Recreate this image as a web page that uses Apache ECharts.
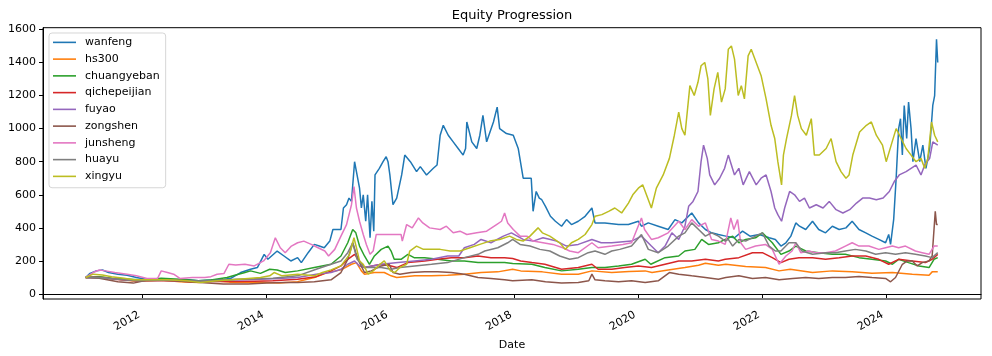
<!DOCTYPE html>
<html>
<head>
<meta charset="utf-8">
<script src="https://cdn.jsdelivr.net/npm/echarts@6/dist/echarts.min.js"></script>
<style>
html,body{margin:0;padding:0;background:#fff;}
#chart{width:992px;height:356px;}
</style>
</head>
<body>
<div id="chart"></div>
<script>
// Time points are decimal years; values are equity levels (start = 100)
const seriesNames = ['wanfeng','hs300','chuangyeban','qichepeijian','fuyao','zongshen','junsheng','huayu','xingyu'];
const colors = ['#1f77b4','#ff7f0e','#2ca02c','#d62728','#9467bd','#8c564b','#e377c2','#7f7f7f','#bcbd22'];
const yTicks = [0,200,400,600,800,1000,1200,1400,1600];
const xTickYears = [2012,2014,2016,2018,2020,2022,2024];

const wanfeng = [[2011.08,100],[2011.15,125],[2011.25,140],[2011.35,145],[2011.45,130],[2011.6,120],[2011.75,114],[2011.9,100],[2012.05,90],[2012.3,88],[2012.5,85],[2012.7,88],[2012.9,80],[2013.1,85],[2013.3,88],[2013.42,95],[2013.58,130],[2013.74,150],[2013.85,160],[2013.96,240],[2014.02,210],[2014.17,260],[2014.28,230],[2014.39,200],[2014.5,220],[2014.56,190],[2014.67,250],[2014.77,300],[2014.85,290],[2014.93,280],[2015.02,320],[2015.07,390],[2015.2,390],[2015.24,520],[2015.29,540],[2015.33,580],[2015.37,560],[2015.42,800],[2015.45,740],[2015.5,640],[2015.53,520],[2015.56,600],[2015.6,440],[2015.63,600],[2015.67,340],[2015.7,560],[2015.73,380],[2015.75,720],[2015.82,760],[2015.88,800],[2015.93,830],[2015.96,800],[2015.99,720],[2016.04,540],[2016.1,580],[2016.18,720],[2016.23,840],[2016.32,800],[2016.42,740],[2016.48,770],[2016.58,720],[2016.69,760],[2016.75,780],[2016.8,960],[2016.85,1020],[2016.93,960],[2017.01,920],[2017.09,880],[2017.17,840],[2017.21,880],[2017.23,1040],[2017.31,920],[2017.39,880],[2017.44,960],[2017.49,1080],[2017.55,920],[2017.66,1040],[2017.72,1130],[2017.76,1000],[2017.79,1000],[2017.87,970],[2017.98,960],[2018.06,880],[2018.14,700],[2018.27,700],[2018.3,500],[2018.35,620],[2018.4,580],[2018.44,570],[2018.5,530],[2018.58,470],[2018.66,440],[2018.76,410],[2018.84,450],[2018.92,420],[2019.03,440],[2019.14,470],[2019.25,520],[2019.3,430],[2019.46,430],[2019.68,420],[2019.84,420],[2020.0,440],[2020.05,410],[2020.16,430],[2020.32,410],[2020.48,390],[2020.59,450],[2020.7,430],[2020.86,490],[2020.97,430],[2021.08,390],[2021.18,370],[2021.29,360],[2021.41,350],[2021.55,340],[2021.68,380],[2021.8,350],[2021.95,360],[2022.11,340],[2022.21,330],[2022.3,290],[2022.38,310],[2022.46,350],[2022.54,430],[2022.6,410],[2022.7,390],[2022.81,440],[2022.91,390],[2023.02,370],[2023.13,410],[2023.24,390],[2023.35,400],[2023.45,440],[2023.56,390],[2023.67,370],[2023.77,350],[2023.88,330],[2023.99,310],[2024.04,360],[2024.07,300],[2024.12,450],[2024.16,700],[2024.2,1000],[2024.23,1060],[2024.26,840],[2024.29,1140],[2024.33,940],[2024.36,1160],[2024.4,1000],[2024.43,800],[2024.48,940],[2024.54,800],[2024.59,900],[2024.64,760],[2024.7,880],[2024.75,1140],[2024.78,1200],[2024.81,1540],[2024.83,1400]];

const hs300 = [[2011.08,100],[2011.3,105],[2011.6,90],[2011.9,78],[2012.1,80],[2012.3,85],[2012.6,75],[2012.9,70],[2013.1,82],[2013.4,72],[2013.6,70],[2013.9,72],[2014.2,66],[2014.5,75],[2014.77,100],[2014.95,125],[2015.04,134],[2015.2,146],[2015.37,180],[2015.45,190],[2015.53,140],[2015.58,120],[2015.74,130],[2015.9,130],[2016.01,110],[2016.1,100],[2016.39,110],[2016.66,110],[2016.92,114],[2017.19,120],[2017.46,130],[2017.73,134],[2017.97,150],[2018.1,140],[2018.45,134],[2018.76,120],[2019.03,120],[2019.25,140],[2019.57,130],[2019.85,136],[2020.11,140],[2020.22,130],[2020.48,146],[2020.75,160],[2020.97,174],[2021.08,186],[2021.29,174],[2021.41,180],[2021.73,166],[2022.05,160],[2022.27,140],[2022.45,150],[2022.81,130],[2023.13,140],[2023.45,134],[2023.77,126],[2024.1,130],[2024.42,120],[2024.69,114],[2024.74,134],[2024.83,134]];

const chuangyeban = [[2011.08,100],[2011.3,105],[2011.5,95],[2011.8,90],[2012.0,85],[2012.3,95],[2012.6,90],[2012.9,80],[2013.1,85],[2013.36,100],[2013.5,115],[2013.65,130],[2013.74,140],[2013.9,125],[2014.05,150],[2014.17,145],[2014.3,130],[2014.5,140],[2014.77,160],[2015.04,180],[2015.2,230],[2015.31,310],[2015.39,390],[2015.44,370],[2015.5,290],[2015.58,230],[2015.66,180],[2015.74,230],[2015.85,270],[2015.96,290],[2016.01,260],[2016.06,210],[2016.17,210],[2016.28,240],[2016.38,220],[2016.55,220],[2016.76,210],[2016.98,200],[2017.19,200],[2017.41,190],[2017.62,190],[2017.84,190],[2017.97,185],[2018.28,180],[2018.49,160],[2018.76,140],[2019.03,150],[2019.25,160],[2019.46,160],[2019.68,170],[2019.89,180],[2020.11,210],[2020.2,180],[2020.43,220],[2020.65,230],[2020.75,260],[2020.91,270],[2021.02,330],[2021.13,300],[2021.29,310],[2021.4,330],[2021.52,350],[2021.62,310],[2021.73,330],[2021.89,340],[2022.0,370],[2022.16,310],[2022.3,240],[2022.43,260],[2022.54,290],[2022.7,260],[2022.91,250],[2023.13,240],[2023.34,240],[2023.56,220],[2023.77,210],[2023.99,200],[2024.1,180],[2024.2,210],[2024.36,190],[2024.53,170],[2024.69,160],[2024.77,210],[2024.83,220]];

const qichepeijian = [[2011.08,100],[2011.3,100],[2011.6,88],[2011.9,80],[2012.2,82],[2012.5,80],[2012.9,72],[2013.2,78],[2013.5,76],[2013.8,78],[2014.1,80],[2014.5,90],[2014.8,105],[2015.04,140],[2015.2,170],[2015.31,210],[2015.42,240],[2015.5,200],[2015.58,160],[2015.85,180],[2016.01,170],[2016.1,160],[2016.28,190],[2016.55,200],[2016.76,210],[2016.98,220],[2017.19,220],[2017.41,230],[2017.62,220],[2017.84,220],[2017.97,215],[2018.1,200],[2018.28,190],[2018.49,180],[2018.76,150],[2019.03,160],[2019.25,180],[2019.35,150],[2019.57,150],[2019.78,160],[2020.0,170],[2020.21,160],[2020.43,180],[2020.65,200],[2020.86,200],[2021.08,210],[2021.29,200],[2021.4,210],[2021.62,220],[2021.84,250],[2022.0,250],[2022.16,220],[2022.3,190],[2022.43,210],[2022.59,220],[2022.81,220],[2023.02,210],[2023.24,220],[2023.45,230],[2023.67,230],[2023.88,210],[2024.04,180],[2024.2,210],[2024.42,200],[2024.63,190],[2024.74,210],[2024.83,240]];

const fuyao = [[2011.08,100],[2011.3,100],[2011.6,90],[2011.9,82],[2012.2,85],[2012.5,82],[2012.9,78],[2013.2,82],[2013.5,85],[2013.8,88],[2014.1,92],[2014.5,100],[2014.8,120],[2015.04,130],[2015.2,150],[2015.31,180],[2015.42,200],[2015.5,170],[2015.58,160],[2015.85,180],[2016.12,190],[2016.39,200],[2016.66,210],[2016.92,230],[2017.1,230],[2017.19,280],[2017.35,300],[2017.46,330],[2017.62,310],[2017.82,350],[2017.95,370],[2018.14,330],[2018.3,320],[2018.46,340],[2018.68,320],[2018.84,290],[2019.03,300],[2019.25,330],[2019.4,310],[2019.57,310],[2019.89,320],[2020.05,350],[2020.21,290],[2020.32,250],[2020.43,290],[2020.54,370],[2020.65,330],[2020.75,410],[2020.81,530],[2020.88,560],[2020.96,620],[2021.01,800],[2021.05,900],[2021.11,820],[2021.15,720],[2021.23,660],[2021.31,700],[2021.39,760],[2021.45,840],[2021.5,780],[2021.55,720],[2021.62,760],[2021.69,660],[2021.79,740],[2021.9,660],[2021.98,700],[2022.06,720],[2022.14,620],[2022.2,520],[2022.25,480],[2022.31,440],[2022.36,520],[2022.44,620],[2022.52,600],[2022.6,560],[2022.68,580],[2022.76,520],[2022.87,540],[2022.98,520],[2023.08,560],[2023.19,510],[2023.3,490],[2023.41,510],[2023.52,550],[2023.62,580],[2023.73,580],[2023.84,570],[2023.95,580],[2024.05,620],[2024.13,680],[2024.21,720],[2024.32,740],[2024.4,760],[2024.48,780],[2024.56,720],[2024.62,780],[2024.7,820],[2024.75,920],[2024.83,900]];

const zongshen = [[2011.08,100],[2011.3,95],[2011.6,74],[2011.85,66],[2012.1,86],[2012.5,80],[2012.93,70],[2013.3,60],[2013.7,60],[2014.0,66],[2014.3,70],[2014.5,70],[2014.77,74],[2015.04,86],[2015.2,130],[2015.31,210],[2015.39,310],[2015.44,250],[2015.5,190],[2015.58,130],[2015.69,140],[2015.85,170],[2015.98,180],[2016.04,130],[2016.15,120],[2016.33,130],[2016.55,134],[2016.76,134],[2016.98,130],[2017.19,120],[2017.41,100],[2017.62,94],[2017.84,86],[2017.97,80],[2018.28,86],[2018.5,74],[2018.76,66],[2019.03,70],[2019.2,80],[2019.25,120],[2019.3,86],[2019.46,80],[2019.68,74],[2019.89,80],[2020.11,70],[2020.32,80],[2020.5,130],[2020.65,120],[2020.86,110],[2021.08,100],[2021.29,90],[2021.41,100],[2021.62,110],[2021.84,94],[2022.05,100],[2022.27,86],[2022.49,94],[2022.7,100],[2022.91,94],[2023.13,100],[2023.34,100],[2023.56,106],[2023.77,100],[2023.99,94],[2024.07,74],[2024.15,100],[2024.26,180],[2024.34,200],[2024.42,200],[2024.5,170],[2024.58,190],[2024.69,200],[2024.74,230],[2024.79,500],[2024.81,420],[2024.83,420]];

const junsheng = [[2011.08,100],[2011.2,130],[2011.3,145],[2011.4,140],[2011.55,130],[2011.75,120],[2011.9,110],[2012.07,94],[2012.24,94],[2012.3,140],[2012.4,130],[2012.5,120],[2012.6,94],[2012.8,100],[2013.0,100],[2013.1,105],[2013.2,120],[2013.31,124],[2013.39,180],[2013.5,175],[2013.65,180],[2013.8,170],[2013.95,200],[2014.06,250],[2014.14,340],[2014.22,280],[2014.3,250],[2014.4,290],[2014.5,310],[2014.6,320],[2014.72,300],[2014.83,280],[2014.94,260],[2015.0,230],[2015.1,270],[2015.2,350],[2015.29,420],[2015.37,540],[2015.41,650],[2015.45,520],[2015.5,440],[2015.56,360],[2015.61,300],[2015.67,240],[2015.72,260],[2015.77,360],[2016.17,360],[2016.19,320],[2016.26,420],[2016.35,400],[2016.45,460],[2016.52,430],[2016.63,400],[2016.8,390],[2016.9,410],[2017.01,370],[2017.12,380],[2017.23,360],[2017.39,370],[2017.55,380],[2017.71,420],[2017.79,440],[2017.84,490],[2017.89,430],[2017.98,390],[2018.09,350],[2018.2,350],[2018.3,320],[2018.46,310],[2018.62,300],[2018.78,280],[2018.89,260],[2019.03,250],[2019.25,310],[2019.35,280],[2019.57,290],[2019.75,300],[2019.89,310],[2020.05,460],[2020.1,390],[2020.21,330],[2020.32,340],[2020.48,370],[2020.65,440],[2020.75,390],[2020.86,450],[2020.97,410],[2021.08,430],[2021.18,330],[2021.29,320],[2021.4,300],[2021.49,460],[2021.54,390],[2021.6,450],[2021.65,310],[2021.73,270],[2021.89,290],[2022.05,300],[2022.16,270],[2022.27,180],[2022.38,230],[2022.48,260],[2022.54,310],[2022.62,250],[2022.75,260],[2022.86,250],[2023.02,250],[2023.18,260],[2023.34,290],[2023.45,310],[2023.56,290],[2023.72,290],[2023.88,270],[2023.99,280],[2024.1,290],[2024.2,280],[2024.31,290],[2024.47,260],[2024.58,250],[2024.69,240],[2024.77,290],[2024.83,290]];

const huayu = [[2011.08,100],[2011.3,98],[2011.6,90],[2011.9,80],[2012.2,82],[2012.5,85],[2012.9,78],[2013.2,82],[2013.5,90],[2013.8,92],[2014.1,95],[2014.5,110],[2014.8,150],[2015.04,180],[2015.2,200],[2015.31,250],[2015.39,310],[2015.46,210],[2015.58,160],[2015.85,160],[2016.01,150],[2016.15,160],[2016.39,170],[2016.66,180],[2016.92,190],[2017.19,220],[2017.41,240],[2017.52,260],[2017.73,280],[2017.89,310],[2017.97,330],[2018.09,300],[2018.25,290],[2018.41,270],[2018.57,260],[2018.73,230],[2018.89,210],[2019.03,220],[2019.19,250],[2019.3,260],[2019.46,240],[2019.57,260],[2019.7,270],[2019.89,290],[2020.05,360],[2020.16,270],[2020.32,250],[2020.48,290],[2020.65,350],[2020.75,370],[2020.86,430],[2020.97,390],[2021.08,350],[2021.18,370],[2021.29,350],[2021.4,320],[2021.45,330],[2021.52,290],[2021.62,330],[2021.73,320],[2021.89,350],[2022.0,370],[2022.11,290],[2022.21,260],[2022.3,260],[2022.43,310],[2022.54,310],[2022.64,260],[2022.81,240],[2023.02,250],[2023.18,250],[2023.34,260],[2023.5,270],[2023.67,260],[2023.83,240],[2023.99,250],[2024.15,240],[2024.31,250],[2024.47,240],[2024.63,230],[2024.74,220],[2024.83,250]];

const xingyu = [[2011.08,100],[2011.2,120],[2011.35,115],[2011.5,105],[2011.7,95],[2011.85,86],[2012.1,86],[2012.4,86],[2012.7,80],[2012.93,70],[2013.2,80],[2013.45,86],[2013.7,94],[2013.9,100],[2014.05,110],[2014.12,130],[2014.25,110],[2014.5,120],[2014.77,110],[2014.9,130],[2015.04,146],[2015.2,170],[2015.34,240],[2015.41,340],[2015.45,280],[2015.5,200],[2015.56,180],[2015.64,120],[2015.72,140],[2015.83,180],[2015.9,200],[2016.0,140],[2016.07,130],[2016.15,160],[2016.26,180],[2016.31,260],[2016.42,290],[2016.53,270],[2016.8,270],[2016.96,260],[2017.12,260],[2017.28,280],[2017.44,300],[2017.6,320],[2017.76,330],[2017.92,350],[2018.03,330],[2018.14,320],[2018.25,350],[2018.38,400],[2018.45,370],[2018.57,350],[2018.73,310],[2018.82,270],[2018.92,310],[2019.03,330],[2019.14,360],[2019.25,420],[2019.3,470],[2019.41,480],[2019.52,500],[2019.62,520],[2019.73,490],[2019.84,550],[2019.91,600],[2020.0,640],[2020.07,660],[2020.15,580],[2020.21,520],[2020.29,640],[2020.4,720],[2020.5,820],[2020.58,960],[2020.65,1100],[2020.7,1000],[2020.75,960],[2020.83,1260],[2020.9,1200],[2020.96,1280],[2021.01,1380],[2021.07,1400],[2021.12,1300],[2021.16,1080],[2021.22,1240],[2021.28,1340],[2021.34,1160],[2021.4,1240],[2021.45,1480],[2021.5,1500],[2021.55,1420],[2021.61,1200],[2021.66,1260],[2021.71,1180],[2021.77,1440],[2021.82,1480],[2021.9,1400],[2021.98,1320],[2022.06,1180],[2022.14,1020],[2022.2,940],[2022.25,800],[2022.31,660],[2022.34,840],[2022.39,940],[2022.47,1080],[2022.52,1200],[2022.57,1080],[2022.63,1000],[2022.71,960],[2022.79,1060],[2022.84,840],[2022.92,840],[2023.03,880],[2023.11,940],[2023.19,800],[2023.27,740],[2023.35,700],[2023.4,720],[2023.46,840],[2023.57,980],[2023.68,1020],[2023.76,1040],[2023.84,960],[2023.94,900],[2024.0,800],[2024.08,900],[2024.16,1000],[2024.24,940],[2024.32,880],[2024.4,840],[2024.48,800],[2024.56,820],[2024.62,760],[2024.67,820],[2024.73,1040],[2024.78,960],[2024.83,920]];

const allData = [wanfeng,hs300,chuangyeban,qichepeijian,fuyao,zongshen,junsheng,huayu,xingyu];

function toTs(y){
  const Y = Math.floor(y);
  const a = Date.UTC(Y,0,1), b = Date.UTC(Y+1,0,1);
  return a + (y - Y) * (b - a);
}

const FONT = 'DejaVu Sans';
const xTickTs = xTickYears.map(y => Date.UTC(y,0,1));
const chart = echarts.init(document.getElementById('chart'), null, {renderer:'canvas'});

chart.setOption({
  animation: false,
  backgroundColor: '#ffffff',
  color: colors,
  textStyle: {fontFamily: FONT},
  title: {
    text: 'Equity Progression',
    left: 512, top: 9, padding: 0,
    textAlign: 'center',
    textStyle: {fontFamily: FONT, fontSize: 13, fontWeight: 'normal', color: '#000'}
  },
  grid: {
    left: 43, right: 11, top: 27.7, bottom: 54.3,
    show: true, borderColor: '#000', borderWidth: 1, backgroundColor: 'transparent',
    containLabel: false
  },
  legend: {
    orient: 'vertical',
    left: 49, top: 33,
    padding: [1, 6, 3, 4],
    itemGap: 0,
    itemWidth: 23,
    itemHeight: 1.6,
    icon: 'rect',
    backgroundColor: 'rgba(255,255,255,0.8)',
    borderColor: 'rgba(204,204,204,0.8)',
    borderWidth: 1,
    borderRadius: 3,
    textStyle: {fontFamily: FONT, fontSize: 11, color: '#000', lineHeight: 16.75, padding: [0,0,0,4]},
    data: seriesNames
  },
  xAxis: {
    type: 'value',
    min: toTs(2010.391),
    max: toTs(2025.528),
    name: 'Date',
    nameLocation: 'middle',
    nameGap: 41,
    nameTextStyle: {fontFamily: FONT, fontSize: 11, color: '#000'},
    axisLine: {show: true, lineStyle: {color: '#000', width: 1}},
    axisTick: {show: true, length: 4, lineStyle: {color: '#000', width: 1}, customValues: xTickTs},
    axisLabel: {
      rotate: 30, margin: 13, fontFamily: FONT, fontSize: 11, color: '#000',
      padding: [0, 4, 0, 0],
      customValues: xTickTs,
      formatter: v => String(new Date(v).getUTCFullYear())
    },
    splitLine: {show: false}
  },
  yAxis: {
    type: 'value',
    min: -30, max: 1610,
    axisLine: {show: true, lineStyle: {color: '#000', width: 1}},
    axisTick: {show: true, length: 4, lineStyle: {color: '#000', width: 1}, customValues: yTicks},
    axisLabel: {margin: 7, fontFamily: FONT, fontSize: 11, color: '#000', customValues: yTicks,
      formatter: v => String(v)},
    splitLine: {show: false}
  },
  series: seriesNames.map((n, i) => ({
    name: n,
    type: 'line',
    data: allData[i].map(p => [toTs(p[0]), p[1]]),
    showSymbol: false,
    symbol: 'none',
    lineStyle: {width: 1.5, color: colors[i]},
    itemStyle: {color: colors[i]},
    emphasis: {disabled: true}
  }))
});
</script>
</body>
</html>
